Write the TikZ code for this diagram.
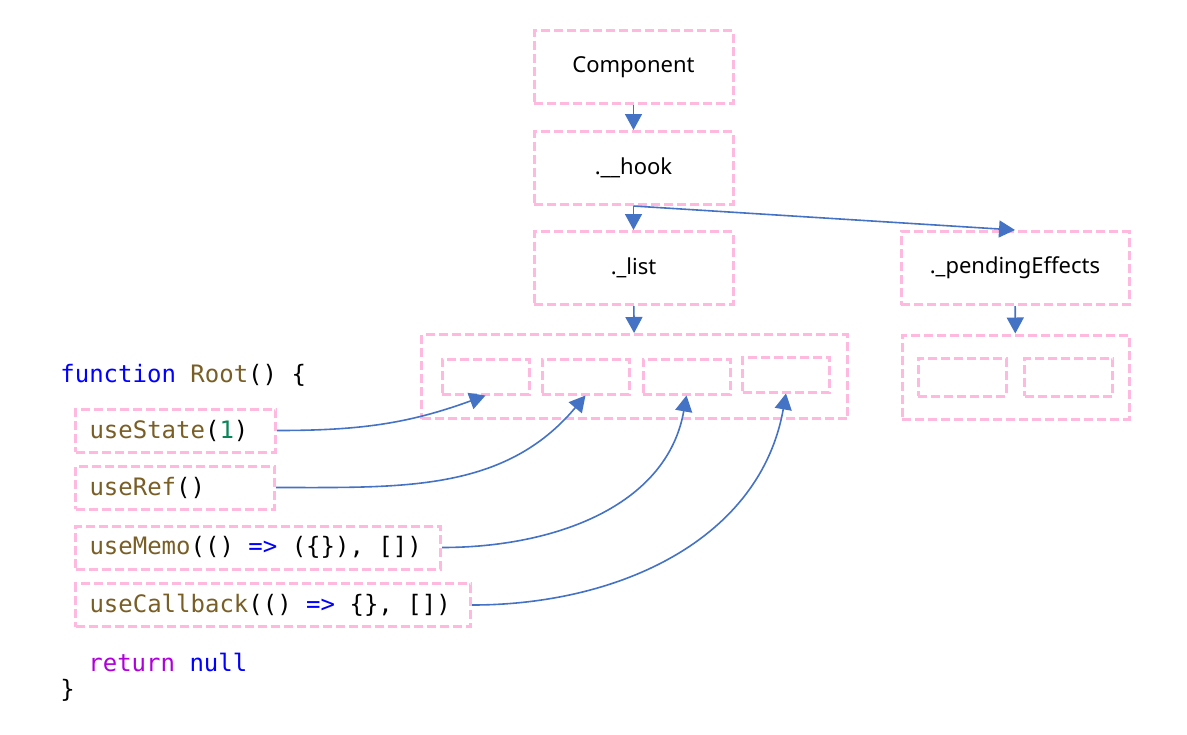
\documentclass[tikz,border=0pt]{standalone}
\usepackage{fontspec}
\setmainfont{Noto Sans}
\newfontfamily\codefont{DejaVu Sans Mono}
\usepackage{xcolor}
\usepackage{tikz}
\usetikzlibrary{arrows.meta,positioning}
\definecolor{boxpink}{HTML}{FFB9DF}
\definecolor{linkblue}{HTML}{4472C4}
\definecolor{codeblue}{HTML}{0000FF}
\definecolor{codebrown}{HTML}{795E26}
\definecolor{codegreen}{HTML}{098658}
\definecolor{codepurple}{HTML}{AF00DB}
\newcommand{\kwd}[1]{\textcolor{codeblue}{#1}}
\newcommand{\fnc}[1]{\textcolor{codebrown}{#1}}
\newcommand{\numlit}[1]{\textcolor{codegreen}{#1}}
\newcommand{\ctl}[1]{\textcolor{codepurple}{#1}}
\newcommand{\codeline}[2]{\makebox[#1][l]{#2}}

\begin{document}
\begin{tikzpicture}[
    x=0.5pt,y=-0.5pt,
    pinkline/.style={draw=boxpink,dash pattern=on 4.5pt off 2pt,line width=1.5pt},
    box/.style={pinkline,minimum width=99.5pt,minimum height=36.5pt,font=\fontsize{11}{13}\selectfont},
    slot/.style={pinkline,minimum width=43.5pt,minimum height=17.5pt},
    holder/.style={pinkline,minimum height=42pt},
    codebox/.style={pinkline,anchor=west,inner xsep=7pt,minimum height=21.5pt,font=\codefont\fontsize{12}{14}\selectfont},
    code/.style={anchor=west,inner sep=0pt,font=\codefont\fontsize{12}{14}\selectfont},
    arr/.style={-{Triangle[length=8pt,width=8.5pt]},draw=linkblue,line width=0.8pt}
]
    \useasboundingbox (0,0) rectangle (1187,734);

    % hook chain
    \node[box] (comp) at (633.5,67) {Component};
    \node[box] (hook) at (633.5,168) {.\_\_hook};
    \node[box] (list) at (633.5,268) {.\_list};
    \node[box,minimum width=114pt] (pend) at (1015,268) {.\_pendingEffects};

    % slots
    \node[holder,minimum width=213pt] (listbox) at (634.5,376.5) {};
    \node[slot] (s1) at (485.5,376.5) {};
    \node[slot] (s2) at (585.5,376.5) {};
    \node[slot] (s3) at (686.5,376.5) {};
    \node[slot] (s4) at (786,374.5) {};
    \node[holder,minimum width=113.5pt] (effbox) at (1015.5,377) {};
    \node[slot,minimum width=44pt,minimum height=19pt] (e1) at (962,377) {};
    \node[slot,minimum width=44pt,minimum height=19pt] (e2) at (1068.5,377) {};

    % code
    \node[code] (fn) at (60,375) {\kwd{function} \fnc{Root}() \{};
    \node[codebox] (st) at (74,430.5) {\codeline{86pt}{\fnc{useState}(\numlit{1})}};
    \node[codebox] (rf) at (74,487.5) {\codeline{85.5pt}{\fnc{useRef}()}};
    \node[codebox] (mm) at (74,547.5) {\codeline{168.5pt}{\fnc{useMemo}(() \kwd{=>} (\{\}), [])}};
    \node[codebox] (cb) at (74,605) {\codeline{183.5pt}{\fnc{useCallback}(() \kwd{=>} \{\}, [])}};
    \node[code] (ret) at (88,662) {\ctl{return} \kwd{null}};
    \node[code] (close) at (60,690) {\}};

    \draw[arr] (comp) -- (hook);
    \draw[arr] (hook) -- (list);
    \draw[arr] (hook.south) -- (pend.north);
    \draw[arr] (list) -- (listbox);
    \draw[arr] (pend) -- (effbox);

    \draw[arr] (st.east) to[out=0,in=-160] (s1.south);
    \draw[arr] (rf.east) to[out=0,in=-130] (s2.south);
    \draw[arr] (mm.east) to[out=0,in=-100] (s3.south);
    \draw[arr] (cb.east) to[out=0,in=-100] (s4.south);
\end{tikzpicture}
\end{document}
